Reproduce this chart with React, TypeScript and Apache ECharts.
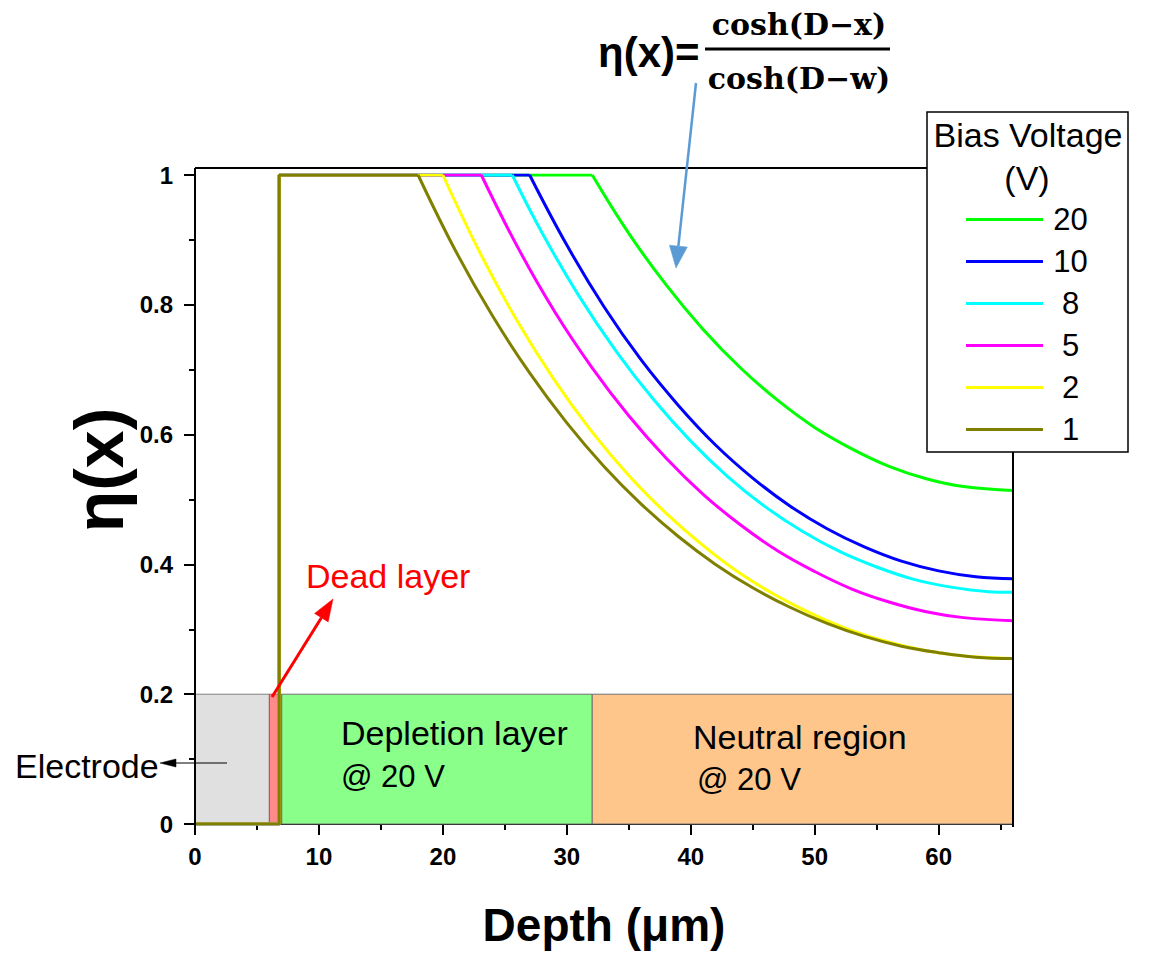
import React, { useEffect, useRef } from "react";
import * as echarts from "echarts";

// ---- data ----
const voltages = ["20", "10", "8", "5", "2", "1"];
const colors = ["#00ff00", "#0000ff", "#00ffff", "#ff00ff", "#ffff00", "#808000"];

const onsetDepth = 6.8; // step from 0 to 1 (end of dead layer)

const depth20 = [32.05, 35, 38, 41, 44, 47, 50, 53, 56, 59, 62, 66];
const eta20 = [1, 0.91, 0.831, 0.762, 0.703, 0.653, 0.611, 0.578, 0.551, 0.532, 0.52, 0.514];

const depth10 = [27, 30, 33, 36, 39, 42, 45, 48, 51, 54, 57, 60, 63, 66];
const eta10 = [1, 0.892, 0.797, 0.715, 0.645, 0.584, 0.533, 0.49, 0.455, 0.427, 0.405, 0.39, 0.381, 0.378];

const depth8 = [25.6, 28, 31, 34, 37, 40, 43, 46, 49, 52, 55, 58, 61, 64, 66];
const eta8 = [1, 0.911, 0.813, 0.728, 0.654, 0.59, 0.535, 0.489, 0.451, 0.42, 0.396, 0.377, 0.365, 0.358, 0.357];

const depth5 = [23.1, 26, 29, 32, 35, 38, 41, 44, 47, 50, 53, 56, 59, 62, 66];
const eta5 = [1, 0.89, 0.79, 0.704, 0.629, 0.564, 0.508, 0.461, 0.421, 0.389, 0.362, 0.342, 0.327, 0.318, 0.313];

const depth2 = [20, 23, 26, 29, 32, 35, 38, 41, 44, 47, 50, 53, 56, 59, 62, 66];
const eta2 = [1, 0.88, 0.775, 0.684, 0.605, 0.537, 0.479, 0.429, 0.386, 0.351, 0.322, 0.298, 0.28, 0.267, 0.259, 0.255];

const depth1 = [18, 21, 24, 27, 30, 33, 36, 39, 42, 45, 48, 51, 54, 57, 60, 63, 66];
const eta1 = [1, 0.884, 0.783, 0.695, 0.618, 0.551, 0.493, 0.443, 0.4, 0.364, 0.334, 0.309, 0.289, 0.274, 0.264, 0.257, 0.255];

const depths = [depth20, depth10, depth8, depth5, depth2, depth1];
const etas = [eta20, eta10, eta8, eta5, eta2, eta1];

// regions (x in um, top at eta = 0.2)
const regionTop = 0.2;
const electrodeEnd = 6.0;
const deadEnd = 7.0;
const depletionEnd = 32.05;
const maxDepth = 66;

const xMajorTicks = [0, 10, 20, 30, 40, 50, 60];
const xMinorTicks = [5, 15, 25, 35, 45, 55, 65];

const SANS = "'Liberation Sans', Arial, sans-serif";

function arrow(x1: number, y1: number, x2: number, y2: number, color: string, width: number, headLen: number, headHalf: number, z: number) {
  const dx = x2 - x1;
  const dy = y2 - y1;
  const len = Math.sqrt(dx * dx + dy * dy);
  const ux = dx / len;
  const uy = dy / len;
  const bx = x2 - ux * headLen;
  const by = y2 - uy * headLen;
  const px = -uy * headHalf;
  const py = ux * headHalf;
  return [
    { type: "line", z, shape: { x1, y1, x2: bx, y2: by }, style: { stroke: color, lineWidth: width } },
    {
      type: "polygon",
      z,
      shape: { points: [[x2, y2], [bx + px, by + py], [bx - px, by - py]] },
      style: { fill: color, stroke: color, lineWidth: 0.5 },
    },
  ];
}

export default function App() {
  const ref = useRef<HTMLDivElement>(null);

  useEffect(() => {
    document.body.style.margin = "0";
    if (!ref.current) return;
    const chart = echarts.init(ref.current, null, { renderer: "svg" });

    const series: any[] = [];
    voltages.forEach((v, i) => {
      const d = depths[i];
      const e = etas[i];
      // rise and plateau
      series.push({
        name: v,
        type: "line",
        z: 2,
        symbol: "none",
        lineStyle: { color: colors[i], width: 3 },
        itemStyle: { color: colors[i] },
        data: [[0, 0], [onsetDepth, 0], [onsetDepth, 1], [d[0], e[0]]],
      });
      // decay
      series.push({
        name: v,
        type: "line",
        z: 2,
        symbol: "none",
        smooth: 0.4,
        lineStyle: { color: colors[i], width: 3 },
        itemStyle: { color: colors[i] },
        data: d.map((x, k) => [x, e[k]]),
      });
    });

    const box = (x0: number, x1: number, color: string, border: string) => [
      { xAxis: x0, yAxis: 0, itemStyle: { color, borderColor: border, borderWidth: 1 } },
      { xAxis: x1, yAxis: regionTop },
    ];

    series.unshift({
      name: "regions",
      type: "line",
      z: 1,
      silent: true,
      symbol: "none",
      lineStyle: { width: 0, opacity: 0 },
      data: [[0, 0]],
      markArea: {
        silent: true,
        z: 1,
        label: { show: false },
        data: [
          box(0, electrodeEnd, "#e0e0e0", "#808080"),
          box(electrodeEnd, deadEnd, "#ff8a8a", "#b05050"),
          box(deadEnd, depletionEnd, "#8aff8a", "#707070"),
          box(depletionEnd, maxDepth, "#ffc68c", "#707070"),
        ],
      },
    });

    const textEl = (text: string, x: number, y: number, size: number, color = "#000", weight = "normal", align = "left", family = SANS, extra: any = {}) => ({
      type: "text",
      z: 10,
      x,
      y,
      ...extra,
      style: { text, fill: color, fontSize: size, fontWeight: weight, fontFamily: family, align, verticalAlign: "middle" },
    });

    const graphic: any[] = [
      // plot frame
      { type: "line", z: 3, shape: { x1: 195, y1: 168, x2: 1013, y2: 168 }, style: { stroke: "#000", lineWidth: 2 } },
      { type: "line", z: 3, shape: { x1: 1013, y1: 168, x2: 1013, y2: 827 }, style: { stroke: "#000", lineWidth: 2 } },
      { type: "line", z: 3, shape: { x1: 195, y1: 168, x2: 195, y2: 827 }, style: { stroke: "#000", lineWidth: 2 } },
      // legend box
      { type: "rect", z: 5, shape: { x: 927, y: 112, width: 201, height: 340 }, style: { fill: "#fff", stroke: "#000", lineWidth: 1.5 } },
      textEl("Bias Voltage", 1028, 135, 34, "#000", "normal", "center"),
      textEl("(V)", 1027, 178, 34, "#000", "normal", "center"),
      // y-axis title
      textEl("η(x)", 99, 470, 68, "#000", "bold", "center", SANS, { rotation: Math.PI / 2 }),
      // formula
      textEl("η(x)=", 598, 52, 42, "#000", "bold", "left"),
      { type: "line", z: 10, shape: { x1: 705, y1: 49, x2: 890, y2: 49 }, style: { stroke: "#000", lineWidth: 3 } },
      textEl("cosh(D−x)", 799, 24, 30, "#000", "bold", "center", "'DejaVu Serif', serif"),
      textEl("cosh(D−w)", 799, 78, 30, "#000", "bold", "center", "'DejaVu Serif', serif"),
      // annotations
      textEl("Depletion layer", 341, 733, 34),
      textEl("@ 20 V", 341, 776, 31),
      textEl("Neutral region", 693, 737, 34),
      textEl("@ 20 V", 697, 779, 31),
      textEl("Electrode", 15, 766, 34),
      textEl("Dead layer", 306, 576, 34, "#ff0000"),
      ...arrow(227, 763, 160, 763, "#000", 1, 16, 4, 10),
      ...arrow(272, 697, 333, 599, "#ff0000", 3, 22, 8, 10),
      ...arrow(696, 83, 676, 268, "#5b9bd5", 2.5, 22, 9, 10),
    ];

    const option: any = {
      animation: false,
      backgroundColor: "#fff",
      grid: { left: 195, right: 139, top: 175, bottom: 126, containLabel: false },
      legend: {
        data: voltages,
        orient: "vertical",
        left: 966,
        top: 204,
        padding: 0,
        z: 6,
        icon: "rect",
        itemWidth: 77,
        itemHeight: 3,
        itemGap: 11,
        selectedMode: false,
        formatter: (n: string) => `{c|${n}}`,
        textStyle: {
          fontSize: 31,
          fontFamily: SANS,
          color: "#000",
          rich: { c: { width: 45, align: "center", fontSize: 31, fontFamily: SANS, color: "#000", lineHeight: 34 } },
        },
      },
      xAxis: [
        {
          type: "value",
          min: 0,
          max: maxDepth,
          interval: 10,
          name: "Depth (μm)",
          nameLocation: "middle",
          nameGap: 78,
          nameTextStyle: { fontSize: 46, fontWeight: "bold", fontFamily: SANS, color: "#000" },
          axisLine: { show: true, onZero: false, lineStyle: { color: "#000", width: 2 } },
          axisTick: { show: true, inside: false, length: 11, customValues: xMajorTicks, lineStyle: { color: "#000", width: 2 } },
          axisLabel: { customValues: xMajorTicks, margin: 20, fontSize: 24, fontWeight: "bold", fontFamily: SANS, color: "#000" },
          splitLine: { show: false },
        },
        {
          type: "value",
          min: 0,
          max: maxDepth,
          position: "bottom",
          axisLine: { show: false },
          axisTick: { show: true, inside: false, length: 6, customValues: xMinorTicks, lineStyle: { color: "#000", width: 2 } },
          axisLabel: { show: false },
          splitLine: { show: false },
        },
      ],
      yAxis: {
        type: "value",
        min: 0,
        max: 1,
        interval: 0.2,
        axisLine: { show: true, onZero: false, lineStyle: { color: "#000", width: 2 } },
        axisTick: { show: true, inside: false, length: 11, lineStyle: { color: "#000", width: 2 } },
        minorTick: { show: true, splitNumber: 2, length: 6, lineStyle: { color: "#000", width: 2 } },
        axisLabel: { margin: 22, fontSize: 24, fontWeight: "bold", fontFamily: SANS, color: "#000" },
        splitLine: { show: false },
        minorSplitLine: { show: false },
      },
      graphic,
      series,
    };

    chart.setOption(option);
    return () => chart.dispose();
  }, []);

  return <div ref={ref} style={{ width: 1152, height: 953 }} />;
}
